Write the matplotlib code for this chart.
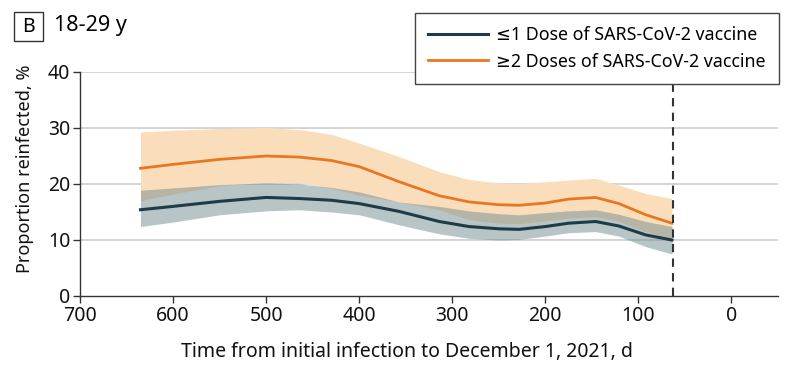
import matplotlib
matplotlib.use("Agg")
import matplotlib.pyplot as plt
from matplotlib.patches import Rectangle

# days before December 1, 2021
days = [635, 600, 550, 500, 464, 430, 400, 357, 314, 282, 250, 228, 200, 175, 146, 121, 92, 64]

# >=2 doses
two_mid = [22.8, 23.5, 24.4, 25.0, 24.8, 24.2, 23.1, 20.4, 17.9, 16.8, 16.3, 16.2, 16.6, 17.3, 17.6, 16.5, 14.5, 13.0]
two_hi = [29.3, 29.6, 29.9, 30.1, 29.7, 28.9, 27.3, 24.9, 22.2, 20.8, 20.2, 20.1, 20.4, 20.7, 21.0, 19.8, 18.3, 17.4]
two_lo = [17.0, 18.2, 19.7, 20.3, 20.2, 19.2, 18.0, 16.8, 15.4, 13.6, 13.0, 12.9, 13.4, 13.9, 14.2, 13.3, 11.5, 10.3]

# <=1 dose
one_mid = [15.4, 16.0, 16.9, 17.6, 17.4, 17.1, 16.5, 15.1, 13.3, 12.4, 12.0, 11.9, 12.4, 13.0, 13.3, 12.5, 10.9, 10.0]
one_hi = [18.9, 19.3, 19.9, 20.2, 20.0, 19.4, 18.6, 16.8, 16.0, 15.2, 14.7, 14.5, 14.9, 15.2, 15.4, 14.6, 13.3, 12.4]
one_lo = [12.4, 13.2, 14.5, 15.2, 15.4, 15.0, 14.5, 12.7, 11.1, 10.3, 10.0, 10.1, 10.7, 11.3, 11.5, 10.7, 8.8, 7.5]

cutoff = 63
xticks = [700, 600, 500, 400, 300, 200, 100, 0]
yticks = [0, 10, 20, 30, 40]

plt.rcParams['font.family'] = ['Noto Sans', 'DejaVu Sans']

fig = plt.figure(figsize=(8, 3.75), dpi=100)
ax = fig.add_axes([0.1, 0.2107, 0.8725, 0.5973])

ax.fill_between(days, two_lo, two_hi, color='#FADEBC', lw=0, zorder=1)
ax.fill_between(days, one_lo, one_hi, color=(0.45, 0.553, 0.56), alpha=0.5, lw=0, zorder=2)
l1, = ax.plot(days, one_mid, color='#1F3B47', lw=2.2, zorder=4, label='≤1 Dose of SARS-CoV-2 vaccine')
l2, = ax.plot(days, two_mid, color='#E87722', lw=2.0, zorder=4, label='≥2 Doses of SARS-CoV-2 vaccine')

# dashed cutoff line, runs up behind the legend
ax.plot([cutoff, cutoff], [0, 1.25], transform=ax.get_xaxis_transform(), color='#333333',
        lw=1.5, ls=(0, (4, 3)), clip_on=False, zorder=5)

ax.set_xlim(700, -50)
ax.set_ylim(0, 40)
ax.set_xticks(xticks)
ax.set_yticks(yticks)
for y in yticks[1:]:
    ax.axhline(y, color='#CCCCCC', lw=1.2, zorder=0)

for s in ['top', 'right']:
    ax.spines[s].set_visible(False)
for s in ['left', 'bottom']:
    ax.spines[s].set_color('#333333')
    ax.spines[s].set_linewidth(1.0)
ax.tick_params(direction='out', length=5, width=1, color='#333333', labelsize=14, pad=2)
for t in ax.get_xticklabels() + ax.get_yticklabels():
    t.set_color('#111111')

ax.set_xlabel('Time from initial infection to December 1, 2021, d', fontsize=14,
              color='#111111', labelpad=12)
ax.xaxis.label.set_x(0.468)
ax.set_ylabel('Proportion reinfected, %', fontsize=13, color='#111111', labelpad=10)
ax.yaxis.label.set_y(0.567)

# panel label
fig.patches.append(Rectangle((14 / 800, 1 - 41 / 375), 29 / 800, 29 / 375, transform=fig.transFigure,
                             fill=False, edgecolor='#333333', lw=1.0))
fig.text(28.5 / 800, 1 - 26.5 / 375, 'B', ha='center', va='center', fontsize=14, fontweight='bold')
fig.text(54 / 800, 1 - 26 / 375, '18-29 y', ha='left', va='center', fontsize=15.5)

leg = fig.legend(handles=[l1, l2], loc='upper left', bbox_to_anchor=(415 / 800, 1 - 12.5 / 375),
                 frameon=True, fancybox=False, framealpha=1, fontsize=12.8, handlelength=3.35,
                 handletextpad=0.45, labelspacing=0.5, borderpad=0.75, borderaxespad=0)
leg.get_frame().set_edgecolor('#444444')
leg.get_frame().set_linewidth(1.0)
leg.set_zorder(10)

fig.savefig('out.png', dpi=100)
